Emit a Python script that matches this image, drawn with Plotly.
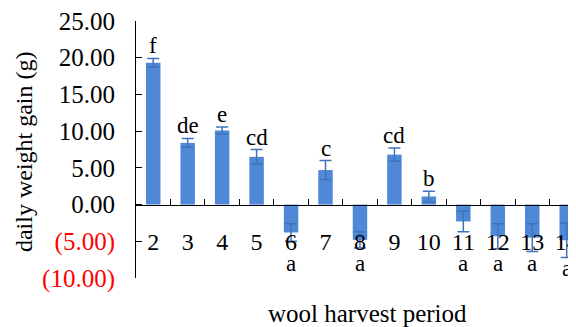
import plotly.graph_objects as go

periods = ["2", "3", "4", "5", "6", "7", "8", "9", "10", "11", "12", "13", "14"]
gain = [19.3, 8.4, 10.1, 6.5, -3.8, 4.7, -4.8, 6.8, 1.1, -2.3, -4.3, -4.5, -4.85]
err = [0.6, 0.6, 0.45, 1.0, 1.2, 1.3, 1.1, 0.9, 0.7, 1.4, 1.7, 1.9, 2.35]
letters = ["f", "de", "e", "cd", "a", "c", "a", "cd", "b", "a", "a", "a", "a"]
ytick_vals = [25, 20, 15, 10, 5, 0, -5, -10]
ytick_text = ["25.00", "20.00", "15.00", "10.00", "5.00", "0.00",
              '<span style="color:#FF0000">(5.00)</span>',
              '<span style="color:#FF0000">(10.00)</span>']

FONT = "Liberation Serif, Times New Roman, serif"
BLUE = "#4F88D6"

fig = go.Figure()
fig.add_trace(go.Bar(
    x=periods, y=gain,
    marker=dict(color=BLUE, line=dict(width=0)),
    width=0.42,
    error_y=dict(type="data", array=err, visible=True, color="#3F74BC",
                 thickness=1.5, width=6),
    showlegend=False,
))

annotations = []
for i, (v, e, t) in enumerate(zip(gain, err, letters)):
    if v >= 0:
        annotations.append(dict(x=i, y=v + e, xref="x", yref="y", text=t,
                                showarrow=False, yanchor="bottom", yshift=-2,
                                font=dict(family=FONT, size=23, color="black")))
    else:
        annotations.append(dict(x=i, y=min(v - e, -6.4), xref="x", yref="y", text=t,
                                showarrow=False, yanchor="top", yshift=3,
                                font=dict(family=FONT, size=23, color="black")))

annotations.append(dict(x=0.525, y=-0.14, xref="paper", yref="paper",
                        text="wool harvest period", showarrow=False,
                        xanchor="center", yanchor="middle",
                        font=dict(family=FONT, size=25, color="black")))
annotations.append(dict(x=-0.2545, y=0.49, xref="paper", yref="paper",
                        text="daily weight gain (g)", showarrow=False, textangle=-90,
                        xanchor="center", yanchor="middle",
                        font=dict(family=FONT, size=24, color="black")))

W, H = 576, 327
OFF = 8  # default body margin of the page
fig.update_layout(
    width=W - OFF, height=H - OFF,
    margin=dict(l=136 - OFF, r=0, t=21 - OFF, b=49),
    paper_bgcolor="white", plot_bgcolor="white",
    bargap=0.58,
    annotations=annotations,
    font=dict(family=FONT),
    xaxis=dict(
        type="category",
        range=[-0.5, 12.27],
        anchor="free", position=10 / 35,
        automargin=False,
        showline=True, linecolor="black", linewidth=1,
        ticks="inside", ticklen=6, tickcolor="black", tickson="boundaries",
        showgrid=False, zeroline=False,
        tickfont=dict(family=FONT, size=24, color="black"),
        ticklabelstandoff=16,
        ticklabeloverflow="allow",
    ),
    yaxis=dict(
        range=[-10, 25],
        automargin=False,
        tickvals=ytick_vals, ticktext=ytick_text,
        showline=True, linecolor="black", linewidth=1,
        ticks="inside", ticklen=6, tickcolor="black",
        showgrid=False, zeroline=False,
        tickfont=dict(family=FONT, size=25, color="black"),
        ticklabelstandoff=15,
        ticklabeloverflow="allow",
    ),
)

fig.write_html("out.html")
